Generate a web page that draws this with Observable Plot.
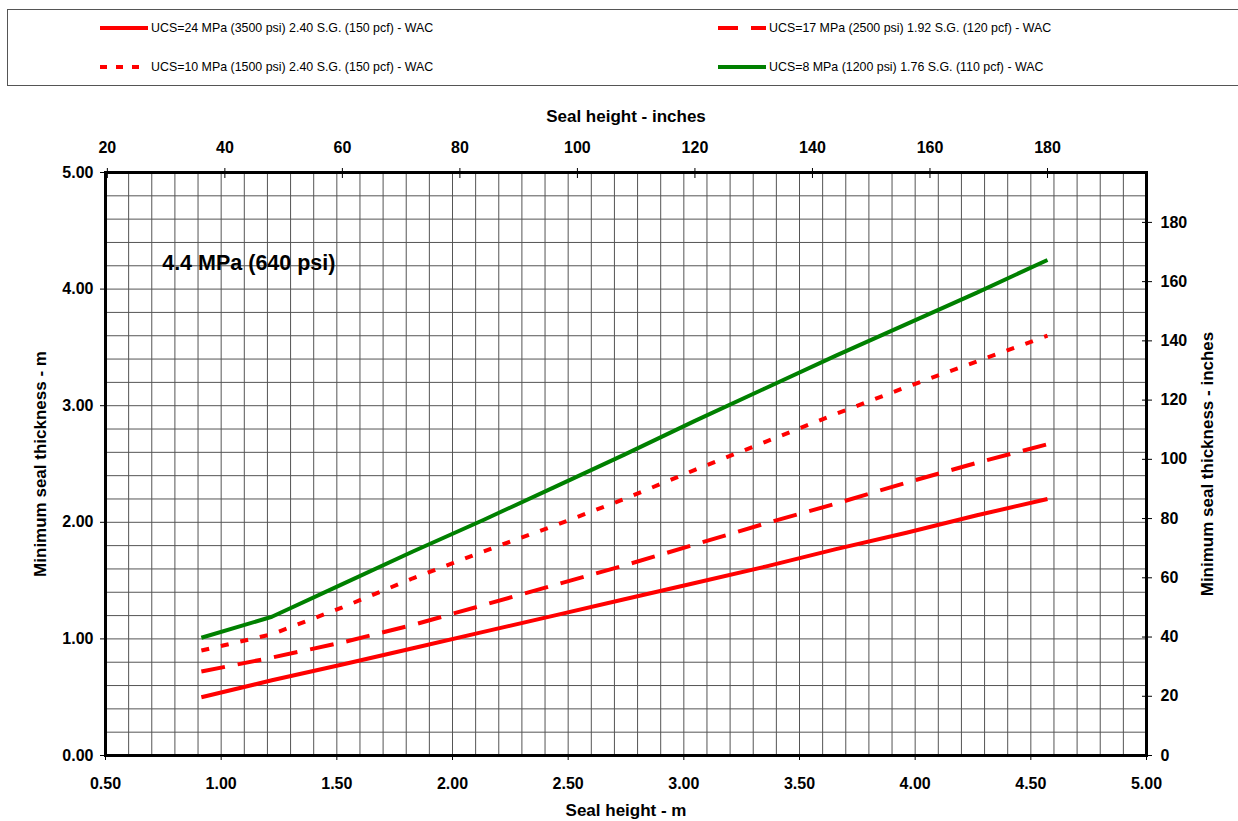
<!DOCTYPE html>
<html><head><meta charset="utf-8">
<script src="https://cdn.jsdelivr.net/npm/d3@7"></script>
<script src="https://cdn.jsdelivr.net/npm/@observablehq/plot@0.6"></script>
<style>
body{margin:0;background:#fff;font-family:"Liberation Sans",Arial,sans-serif;}
#legend{position:relative;width:1238px;height:95px;overflow:hidden;}
#legend .box{position:absolute;left:7px;top:9px;width:1240px;height:77px;border:1px solid #555;box-sizing:border-box;}
.item{position:absolute;display:flex;align-items:center;height:16px;font-size:12.4px;color:#000;white-space:nowrap;}
.item svg{display:block;margin-right:3px;}
#chart svg{display:block;}
</style></head><body>
<div id="legend"><div class="box"></div></div>
<div id="chart"></div>
<script>
// ---- data ----
const sealHeightIn = [36, 48, 60, 72, 84, 96, 108, 120, 132, 144, 156, 168, 180];
const ucs24 = [0.50, 0.645, 0.78, 0.92, 1.06, 1.20, 1.34, 1.48, 1.62, 1.77, 1.91, 2.06, 2.20];
const ucs17 = [0.72, 0.84, 0.97, 1.12, 1.29, 1.46, 1.63, 1.81, 1.99, 2.16, 2.34, 2.51, 2.67];
const ucs10 = [0.90, 1.04, 1.27, 1.52, 1.75, 1.97, 2.20, 2.45, 2.69, 2.93, 3.16, 3.38, 3.60];
const ucs8  = [1.01, 1.19, 1.47, 1.75, 2.02, 2.30, 2.58, 2.87, 3.15, 3.43, 3.70, 3.97, 4.25];
const seriesNames = [
  "UCS=24 MPa (3500 psi) 2.40 S.G. (150 pcf) - WAC",
  "UCS=17 MPa (2500 psi) 1.92 S.G. (120 pcf) - WAC",
  "UCS=10 MPa (1500 psi) 2.40 S.G. (150 pcf) - WAC",
  "UCS=8 MPa (1200 psi) 1.76 S.G. (110 pcf) - WAC"
];
const xTicksM = [0.5, 1.0, 1.5, 2.0, 2.5, 3.0, 3.5, 4.0, 4.5, 5.0];
const yTicksM = [0, 1, 2, 3, 4, 5];
const topTicksIn = [20, 40, 60, 80, 100, 120, 140, 160, 180];
const rightTicksIn = [0, 20, 40, 60, 80, 100, 120, 140, 160, 180];
const annotation = [{label: "4.4 MPa (640 psi)", h: 0.745, t: 4.22}];
const xTitle = "Seal height - m", topTitle = "Seal height - inches";
const yTitle = "Minimum seal thickness - m", rightTitle = "Minimum seal thickness - inches";

// ---- styles ----
const INCH = 0.0254;
const seriesValues = [ucs24, ucs17, ucs10, ucs8];
const styles = [
  {color: "#ff0000", dash: null, legendDash: null},
  {color: "#ff0000", dash: "24,13", legendDash: "20,13"},
  {color: "#ff0000", dash: "8,12", legendDash: "7,9"},
  {color: "#008000", dash: null, legendDash: null}
];
const series = seriesNames.map((name, k) => ({
  name, ...styles[k],
  rows: sealHeightIn.map((h, i) => ({x: h * INCH, y: seriesValues[k][i]}))
}));

// ---- legend ----
const legend = document.getElementById("legend");
const legendPos = [[100, 20], [718, 20], [100, 59], [718, 59]];
series.forEach((s, k) => {
  const d = document.createElement("div");
  d.className = "item";
  d.style.left = legendPos[k][0] + "px";
  d.style.top = legendPos[k][1] + "px";
  d.innerHTML = `<svg width="48" height="8"><line x1="0" y1="4" x2="48" y2="4" stroke="${s.color}" stroke-width="4" ${s.legendDash ? `stroke-dasharray="${s.legendDash}"` : ""}/></svg><span>${s.name}</span>`;
  legend.appendChild(d);
});

// ---- chart ----
const fmt2 = d3.format(".2f");
const chart = Plot.plot({
  width: 1238, height: 726,
  marginTop: 77, marginBottom: 66, marginLeft: 105, marginRight: 92,
  style: {fontFamily: '"Liberation Sans", Arial, sans-serif', fontSize: "16px", fontWeight: "bold", color: "#000", background: "#fff"},
  x: {domain: [0.5, 5]},
  y: {domain: [0, 5]},
  marks: [
    Plot.ruleX(d3.range(5, 51).map(i => i / 10), {stroke: "#555", strokeWidth: 1}),
    Plot.ruleY(d3.range(0, 26).map(i => i / 5), {stroke: "#555", strokeWidth: 1}),
    ...series.map(s => Plot.line(s.rows, {x: "x", y: "y", stroke: s.color, strokeWidth: 4, strokeDasharray: s.dash || undefined, strokeLinecap: "butt"})),
    Plot.frame({stroke: "#000", strokeWidth: 3}),
    Plot.text(annotation, {x: "h", y: "t", text: "label", textAnchor: "start", fontSize: 21.5, fontWeight: "bold"}),
    Plot.axisX({anchor: "bottom", ticks: xTicksM, tickFormat: fmt2, tickSize: 5, tickPadding: 17, label: null}),
    Plot.axisX({anchor: "top", ticks: topTicksIn.map(d => d * INCH), tickFormat: d => Math.round(d / INCH), tickSize: 10, dy: 5, tickPadding: 15, label: null}),
    Plot.axisY({anchor: "left", ticks: yTicksM, tickFormat: fmt2, tickSize: 5, tickPadding: 7, label: null}),
    Plot.axisY({anchor: "right", ticks: rightTicksIn.map(d => d * INCH), tickFormat: d => Math.round(d / INCH), tickSize: 10, dx: -5, tickPadding: 9, label: null}),
    Plot.text([xTitle], {text: d => d, frameAnchor: "bottom", dy: 55, lineAnchor: "middle", fontSize: 17}),
    Plot.text([topTitle], {text: d => d, frameAnchor: "top", dy: -56, lineAnchor: "middle", fontSize: 17}),
    Plot.text([yTitle], {text: d => d, frameAnchor: "left", dx: -65, rotate: -90, textAnchor: "middle", lineAnchor: "middle", fontSize: 17}),
    Plot.text([rightTitle], {text: d => d, frameAnchor: "right", dx: 61, rotate: -90, textAnchor: "middle", lineAnchor: "middle", fontSize: 17})
  ]
});
document.getElementById("chart").appendChild(chart);
</script>
</body></html>
